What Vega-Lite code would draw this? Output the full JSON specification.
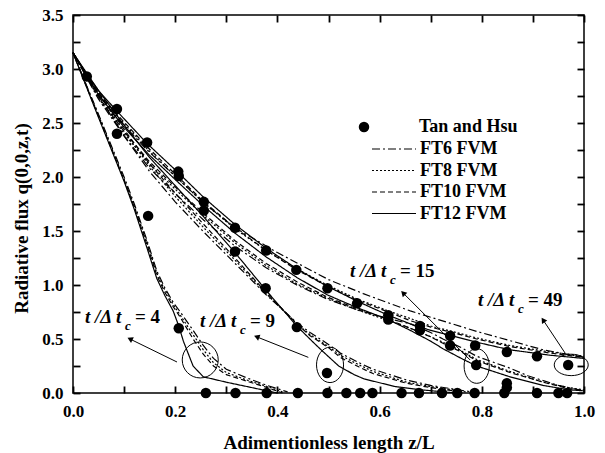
{
  "$schema": "https://vega.github.io/schema/vega-lite/v6.json",
  "autosize": "none",
  "padding": {"left": 73, "top": 15, "right": 21, "bottom": 60},
  "width": 511,
  "height": 378,
  "background": "white",
  "config": {
    "view": {"stroke": "black", "strokeWidth": 1.5},
    "axis": {
      "domain": false, "ticks": true, "zindex": 1,
      "tickColor": "black", "tickWidth": 1.8, "tickSize": 7,
      "labelFont": "Liberation Serif", "labelFontWeight": "bold", "labelFontSize": 17, "labelColor": "black",
      "titleFont": "Liberation Serif", "titleFontWeight": "bold", "titleFontSize": 19, "titleColor": "black",
      "grid": false, "labelOverlap": false, "labelFlush": false
    },
    "legend": {
      "labelFont": "Liberation Serif", "labelFontWeight": "bold", "labelFontSize": 18, "labelColor": "black",
      "padding": 0
    }
  },
  "datasets": {
    "lines": [
      {"t":"4","m":"FT12 FVM","x":0,"y":3.15},{"t":"4","m":"FT12 FVM","x":0.05,"y":2.55},{"t":"4","m":"FT12 FVM","x":0.1,"y":1.96},{"t":"4","m":"FT12 FVM","x":0.12,"y":1.7},{"t":"4","m":"FT12 FVM","x":0.145,"y":1.34},{"t":"4","m":"FT12 FVM","x":0.164,"y":1.06},{"t":"4","m":"FT12 FVM","x":0.18,"y":0.9},{"t":"4","m":"FT12 FVM","x":0.196,"y":0.76},{"t":"4","m":"FT12 FVM","x":0.207,"y":0.62},{"t":"4","m":"FT12 FVM","x":0.216,"y":0.48},{"t":"4","m":"FT12 FVM","x":0.235,"y":0.25},{"t":"4","m":"FT12 FVM","x":0.255,"y":0.15},{"t":"4","m":"FT12 FVM","x":0.3,"y":0.1},{"t":"4","m":"FT12 FVM","x":0.34,"y":0.06},{"t":"4","m":"FT12 FVM","x":0.38,"y":0.02},{"t":"4","m":"FT12 FVM","x":0.4,"y":0.0},
      {"t":"4","m":"FT10 FVM","x":0,"y":3.15},{"t":"4","m":"FT10 FVM","x":0.05,"y":2.56},{"t":"4","m":"FT10 FVM","x":0.1,"y":1.97},{"t":"4","m":"FT10 FVM","x":0.12,"y":1.72},{"t":"4","m":"FT10 FVM","x":0.145,"y":1.37},{"t":"4","m":"FT10 FVM","x":0.164,"y":1.09},{"t":"4","m":"FT10 FVM","x":0.18,"y":0.93},{"t":"4","m":"FT10 FVM","x":0.196,"y":0.8},{"t":"4","m":"FT10 FVM","x":0.21,"y":0.7},{"t":"4","m":"FT10 FVM","x":0.235,"y":0.5},{"t":"4","m":"FT10 FVM","x":0.255,"y":0.36},{"t":"4","m":"FT10 FVM","x":0.275,"y":0.25},{"t":"4","m":"FT10 FVM","x":0.3,"y":0.17},{"t":"4","m":"FT10 FVM","x":0.34,"y":0.11},{"t":"4","m":"FT10 FVM","x":0.38,"y":0.05},{"t":"4","m":"FT10 FVM","x":0.41,"y":0.0},
      {"t":"4","m":"FT8 FVM","x":0,"y":3.15},{"t":"4","m":"FT8 FVM","x":0.05,"y":2.57},{"t":"4","m":"FT8 FVM","x":0.1,"y":1.98},{"t":"4","m":"FT8 FVM","x":0.12,"y":1.73},{"t":"4","m":"FT8 FVM","x":0.145,"y":1.39},{"t":"4","m":"FT8 FVM","x":0.164,"y":1.11},{"t":"4","m":"FT8 FVM","x":0.18,"y":0.95},{"t":"4","m":"FT8 FVM","x":0.196,"y":0.82},{"t":"4","m":"FT8 FVM","x":0.21,"y":0.72},{"t":"4","m":"FT8 FVM","x":0.235,"y":0.54},{"t":"4","m":"FT8 FVM","x":0.255,"y":0.4},{"t":"4","m":"FT8 FVM","x":0.275,"y":0.28},{"t":"4","m":"FT8 FVM","x":0.3,"y":0.19},{"t":"4","m":"FT8 FVM","x":0.34,"y":0.12},{"t":"4","m":"FT8 FVM","x":0.38,"y":0.06},{"t":"4","m":"FT8 FVM","x":0.41,"y":0.01},
      {"t":"4","m":"FT6 FVM","x":0,"y":3.15},{"t":"4","m":"FT6 FVM","x":0.05,"y":2.58},{"t":"4","m":"FT6 FVM","x":0.1,"y":2.0},{"t":"4","m":"FT6 FVM","x":0.12,"y":1.75},{"t":"4","m":"FT6 FVM","x":0.145,"y":1.41},{"t":"4","m":"FT6 FVM","x":0.164,"y":1.13},{"t":"4","m":"FT6 FVM","x":0.18,"y":0.97},{"t":"4","m":"FT6 FVM","x":0.196,"y":0.84},{"t":"4","m":"FT6 FVM","x":0.21,"y":0.75},{"t":"4","m":"FT6 FVM","x":0.235,"y":0.58},{"t":"4","m":"FT6 FVM","x":0.255,"y":0.44},{"t":"4","m":"FT6 FVM","x":0.275,"y":0.32},{"t":"4","m":"FT6 FVM","x":0.3,"y":0.22},{"t":"4","m":"FT6 FVM","x":0.34,"y":0.14},{"t":"4","m":"FT6 FVM","x":0.38,"y":0.07},{"t":"4","m":"FT6 FVM","x":0.42,"y":0.01},

      {"t":"9","m":"FT12 FVM","x":0,"y":3.15},{"t":"9","m":"FT12 FVM","x":0.05,"y":2.8},{"t":"9","m":"FT12 FVM","x":0.1,"y":2.48},{"t":"9","m":"FT12 FVM","x":0.15,"y":2.18},{"t":"9","m":"FT12 FVM","x":0.2,"y":1.92},{"t":"9","m":"FT12 FVM","x":0.256,"y":1.63},{"t":"9","m":"FT12 FVM","x":0.317,"y":1.3},{"t":"9","m":"FT12 FVM","x":0.378,"y":0.95},{"t":"9","m":"FT12 FVM","x":0.438,"y":0.62},{"t":"9","m":"FT12 FVM","x":0.47,"y":0.47},{"t":"9","m":"FT12 FVM","x":0.49,"y":0.38},{"t":"9","m":"FT12 FVM","x":0.52,"y":0.25},{"t":"9","m":"FT12 FVM","x":0.55,"y":0.17},{"t":"9","m":"FT12 FVM","x":0.57,"y":0.13},{"t":"9","m":"FT12 FVM","x":0.63,"y":0.06},{"t":"9","m":"FT12 FVM","x":0.68,"y":0.03},{"t":"9","m":"FT12 FVM","x":0.75,"y":0.0},
      {"t":"9","m":"FT10 FVM","x":0,"y":3.15},{"t":"9","m":"FT10 FVM","x":0.05,"y":2.78},{"t":"9","m":"FT10 FVM","x":0.1,"y":2.44},{"t":"9","m":"FT10 FVM","x":0.15,"y":2.12},{"t":"9","m":"FT10 FVM","x":0.2,"y":1.85},{"t":"9","m":"FT10 FVM","x":0.256,"y":1.56},{"t":"9","m":"FT10 FVM","x":0.317,"y":1.25},{"t":"9","m":"FT10 FVM","x":0.378,"y":0.93},{"t":"9","m":"FT10 FVM","x":0.438,"y":0.64},{"t":"9","m":"FT10 FVM","x":0.464,"y":0.53},{"t":"9","m":"FT10 FVM","x":0.5,"y":0.42},{"t":"9","m":"FT10 FVM","x":0.523,"y":0.33},{"t":"9","m":"FT10 FVM","x":0.56,"y":0.24},{"t":"9","m":"FT10 FVM","x":0.587,"y":0.18},{"t":"9","m":"FT10 FVM","x":0.653,"y":0.09},{"t":"9","m":"FT10 FVM","x":0.7,"y":0.05},{"t":"9","m":"FT10 FVM","x":0.76,"y":0.01},
      {"t":"9","m":"FT8 FVM","x":0,"y":3.15},{"t":"9","m":"FT8 FVM","x":0.05,"y":2.77},{"t":"9","m":"FT8 FVM","x":0.1,"y":2.42},{"t":"9","m":"FT8 FVM","x":0.15,"y":2.1},{"t":"9","m":"FT8 FVM","x":0.2,"y":1.82},{"t":"9","m":"FT8 FVM","x":0.256,"y":1.53},{"t":"9","m":"FT8 FVM","x":0.317,"y":1.23},{"t":"9","m":"FT8 FVM","x":0.378,"y":0.92},{"t":"9","m":"FT8 FVM","x":0.438,"y":0.64},{"t":"9","m":"FT8 FVM","x":0.464,"y":0.54},{"t":"9","m":"FT8 FVM","x":0.5,"y":0.43},{"t":"9","m":"FT8 FVM","x":0.523,"y":0.35},{"t":"9","m":"FT8 FVM","x":0.56,"y":0.26},{"t":"9","m":"FT8 FVM","x":0.587,"y":0.2},{"t":"9","m":"FT8 FVM","x":0.653,"y":0.1},{"t":"9","m":"FT8 FVM","x":0.7,"y":0.06},{"t":"9","m":"FT8 FVM","x":0.77,"y":0.01},
      {"t":"9","m":"FT6 FVM","x":0,"y":3.15},{"t":"9","m":"FT6 FVM","x":0.05,"y":2.75},{"t":"9","m":"FT6 FVM","x":0.1,"y":2.38},{"t":"9","m":"FT6 FVM","x":0.15,"y":2.05},{"t":"9","m":"FT6 FVM","x":0.2,"y":1.77},{"t":"9","m":"FT6 FVM","x":0.256,"y":1.49},{"t":"9","m":"FT6 FVM","x":0.317,"y":1.2},{"t":"9","m":"FT6 FVM","x":0.378,"y":0.91},{"t":"9","m":"FT6 FVM","x":0.438,"y":0.65},{"t":"9","m":"FT6 FVM","x":0.464,"y":0.56},{"t":"9","m":"FT6 FVM","x":0.5,"y":0.45},{"t":"9","m":"FT6 FVM","x":0.523,"y":0.37},{"t":"9","m":"FT6 FVM","x":0.56,"y":0.28},{"t":"9","m":"FT6 FVM","x":0.587,"y":0.22},{"t":"9","m":"FT6 FVM","x":0.653,"y":0.12},{"t":"9","m":"FT6 FVM","x":0.7,"y":0.07},{"t":"9","m":"FT6 FVM","x":0.78,"y":0.01},

      {"t":"15","m":"FT12 FVM","x":0,"y":3.15},{"t":"15","m":"FT12 FVM","x":0.05,"y":2.76},{"t":"15","m":"FT12 FVM","x":0.1,"y":2.46},{"t":"15","m":"FT12 FVM","x":0.15,"y":2.2},{"t":"15","m":"FT12 FVM","x":0.206,"y":1.95},{"t":"15","m":"FT12 FVM","x":0.256,"y":1.73},{"t":"15","m":"FT12 FVM","x":0.317,"y":1.48},{"t":"15","m":"FT12 FVM","x":0.378,"y":1.26},{"t":"15","m":"FT12 FVM","x":0.438,"y":1.07},{"t":"15","m":"FT12 FVM","x":0.497,"y":0.91},{"t":"15","m":"FT12 FVM","x":0.556,"y":0.79},{"t":"15","m":"FT12 FVM","x":0.617,"y":0.68},{"t":"15","m":"FT12 FVM","x":0.66,"y":0.58},{"t":"15","m":"FT12 FVM","x":0.7,"y":0.48},{"t":"15","m":"FT12 FVM","x":0.724,"y":0.41},{"t":"15","m":"FT12 FVM","x":0.76,"y":0.32},{"t":"15","m":"FT12 FVM","x":0.79,"y":0.25},{"t":"15","m":"FT12 FVM","x":0.855,"y":0.15},{"t":"15","m":"FT12 FVM","x":0.92,"y":0.07},{"t":"15","m":"FT12 FVM","x":0.97,"y":0.03},{"t":"15","m":"FT12 FVM","x":1.0,"y":0.02},
      {"t":"15","m":"FT10 FVM","x":0,"y":3.15},{"t":"15","m":"FT10 FVM","x":0.05,"y":2.74},{"t":"15","m":"FT10 FVM","x":0.1,"y":2.42},{"t":"15","m":"FT10 FVM","x":0.15,"y":2.14},{"t":"15","m":"FT10 FVM","x":0.206,"y":1.88},{"t":"15","m":"FT10 FVM","x":0.256,"y":1.66},{"t":"15","m":"FT10 FVM","x":0.317,"y":1.41},{"t":"15","m":"FT10 FVM","x":0.378,"y":1.2},{"t":"15","m":"FT10 FVM","x":0.438,"y":1.03},{"t":"15","m":"FT10 FVM","x":0.497,"y":0.89},{"t":"15","m":"FT10 FVM","x":0.556,"y":0.78},{"t":"15","m":"FT10 FVM","x":0.617,"y":0.68},{"t":"15","m":"FT10 FVM","x":0.66,"y":0.6},{"t":"15","m":"FT10 FVM","x":0.7,"y":0.52},{"t":"15","m":"FT10 FVM","x":0.724,"y":0.46},{"t":"15","m":"FT10 FVM","x":0.76,"y":0.38},{"t":"15","m":"FT10 FVM","x":0.79,"y":0.3},{"t":"15","m":"FT10 FVM","x":0.855,"y":0.19},{"t":"15","m":"FT10 FVM","x":0.92,"y":0.1},{"t":"15","m":"FT10 FVM","x":0.97,"y":0.04},{"t":"15","m":"FT10 FVM","x":1.0,"y":0.02},
      {"t":"15","m":"FT8 FVM","x":0,"y":3.15},{"t":"15","m":"FT8 FVM","x":0.05,"y":2.73},{"t":"15","m":"FT8 FVM","x":0.1,"y":2.4},{"t":"15","m":"FT8 FVM","x":0.15,"y":2.12},{"t":"15","m":"FT8 FVM","x":0.206,"y":1.86},{"t":"15","m":"FT8 FVM","x":0.256,"y":1.64},{"t":"15","m":"FT8 FVM","x":0.317,"y":1.39},{"t":"15","m":"FT8 FVM","x":0.378,"y":1.18},{"t":"15","m":"FT8 FVM","x":0.438,"y":1.01},{"t":"15","m":"FT8 FVM","x":0.497,"y":0.88},{"t":"15","m":"FT8 FVM","x":0.556,"y":0.77},{"t":"15","m":"FT8 FVM","x":0.617,"y":0.67},{"t":"15","m":"FT8 FVM","x":0.66,"y":0.6},{"t":"15","m":"FT8 FVM","x":0.7,"y":0.52},{"t":"15","m":"FT8 FVM","x":0.724,"y":0.47},{"t":"15","m":"FT8 FVM","x":0.76,"y":0.39},{"t":"15","m":"FT8 FVM","x":0.79,"y":0.31},{"t":"15","m":"FT8 FVM","x":0.855,"y":0.2},{"t":"15","m":"FT8 FVM","x":0.92,"y":0.1},{"t":"15","m":"FT8 FVM","x":0.97,"y":0.05},{"t":"15","m":"FT8 FVM","x":1.0,"y":0.03},
      {"t":"15","m":"FT6 FVM","x":0,"y":3.15},{"t":"15","m":"FT6 FVM","x":0.05,"y":2.72},{"t":"15","m":"FT6 FVM","x":0.1,"y":2.38},{"t":"15","m":"FT6 FVM","x":0.15,"y":2.08},{"t":"15","m":"FT6 FVM","x":0.206,"y":1.82},{"t":"15","m":"FT6 FVM","x":0.256,"y":1.6},{"t":"15","m":"FT6 FVM","x":0.317,"y":1.36},{"t":"15","m":"FT6 FVM","x":0.378,"y":1.16},{"t":"15","m":"FT6 FVM","x":0.438,"y":1.0},{"t":"15","m":"FT6 FVM","x":0.497,"y":0.87},{"t":"15","m":"FT6 FVM","x":0.556,"y":0.77},{"t":"15","m":"FT6 FVM","x":0.617,"y":0.69},{"t":"15","m":"FT6 FVM","x":0.66,"y":0.64},{"t":"15","m":"FT6 FVM","x":0.7,"y":0.56},{"t":"15","m":"FT6 FVM","x":0.724,"y":0.5},{"t":"15","m":"FT6 FVM","x":0.76,"y":0.42},{"t":"15","m":"FT6 FVM","x":0.79,"y":0.34},{"t":"15","m":"FT6 FVM","x":0.855,"y":0.23},{"t":"15","m":"FT6 FVM","x":0.89,"y":0.16},{"t":"15","m":"FT6 FVM","x":0.95,"y":0.07},{"t":"15","m":"FT6 FVM","x":1.0,"y":0.02},

      {"t":"49","m":"FT12 FVM","x":0,"y":3.15},{"t":"49","m":"FT12 FVM","x":0.027,"y":2.95},{"t":"49","m":"FT12 FVM","x":0.05,"y":2.8},{"t":"49","m":"FT12 FVM","x":0.086,"y":2.61},{"t":"49","m":"FT12 FVM","x":0.145,"y":2.31},{"t":"49","m":"FT12 FVM","x":0.206,"y":2.04},{"t":"49","m":"FT12 FVM","x":0.256,"y":1.81},{"t":"49","m":"FT12 FVM","x":0.317,"y":1.56},{"t":"49","m":"FT12 FVM","x":0.378,"y":1.34},{"t":"49","m":"FT12 FVM","x":0.438,"y":1.15},{"t":"49","m":"FT12 FVM","x":0.497,"y":0.99},{"t":"49","m":"FT12 FVM","x":0.556,"y":0.85},{"t":"49","m":"FT12 FVM","x":0.617,"y":0.72},{"t":"49","m":"FT12 FVM","x":0.66,"y":0.64},{"t":"49","m":"FT12 FVM","x":0.7,"y":0.58},{"t":"49","m":"FT12 FVM","x":0.75,"y":0.52},{"t":"49","m":"FT12 FVM","x":0.79,"y":0.47},{"t":"49","m":"FT12 FVM","x":0.855,"y":0.4},{"t":"49","m":"FT12 FVM","x":0.933,"y":0.35},{"t":"49","m":"FT12 FVM","x":1.0,"y":0.32},
      {"t":"49","m":"FT10 FVM","x":0,"y":3.15},{"t":"49","m":"FT10 FVM","x":0.05,"y":2.78},{"t":"49","m":"FT10 FVM","x":0.086,"y":2.58},{"t":"49","m":"FT10 FVM","x":0.145,"y":2.28},{"t":"49","m":"FT10 FVM","x":0.206,"y":2.0},{"t":"49","m":"FT10 FVM","x":0.256,"y":1.77},{"t":"49","m":"FT10 FVM","x":0.317,"y":1.53},{"t":"49","m":"FT10 FVM","x":0.378,"y":1.32},{"t":"49","m":"FT10 FVM","x":0.438,"y":1.14},{"t":"49","m":"FT10 FVM","x":0.497,"y":0.99},{"t":"49","m":"FT10 FVM","x":0.556,"y":0.86},{"t":"49","m":"FT10 FVM","x":0.617,"y":0.75},{"t":"49","m":"FT10 FVM","x":0.66,"y":0.67},{"t":"49","m":"FT10 FVM","x":0.7,"y":0.61},{"t":"49","m":"FT10 FVM","x":0.75,"y":0.55},{"t":"49","m":"FT10 FVM","x":0.79,"y":0.5},{"t":"49","m":"FT10 FVM","x":0.855,"y":0.43},{"t":"49","m":"FT10 FVM","x":0.933,"y":0.37},{"t":"49","m":"FT10 FVM","x":1.0,"y":0.33},
      {"t":"49","m":"FT8 FVM","x":0,"y":3.15},{"t":"49","m":"FT8 FVM","x":0.05,"y":2.77},{"t":"49","m":"FT8 FVM","x":0.086,"y":2.57},{"t":"49","m":"FT8 FVM","x":0.145,"y":2.26},{"t":"49","m":"FT8 FVM","x":0.206,"y":1.98},{"t":"49","m":"FT8 FVM","x":0.256,"y":1.76},{"t":"49","m":"FT8 FVM","x":0.317,"y":1.52},{"t":"49","m":"FT8 FVM","x":0.378,"y":1.32},{"t":"49","m":"FT8 FVM","x":0.438,"y":1.15},{"t":"49","m":"FT8 FVM","x":0.497,"y":1.0},{"t":"49","m":"FT8 FVM","x":0.556,"y":0.87},{"t":"49","m":"FT8 FVM","x":0.617,"y":0.76},{"t":"49","m":"FT8 FVM","x":0.66,"y":0.69},{"t":"49","m":"FT8 FVM","x":0.7,"y":0.62},{"t":"49","m":"FT8 FVM","x":0.75,"y":0.56},{"t":"49","m":"FT8 FVM","x":0.79,"y":0.51},{"t":"49","m":"FT8 FVM","x":0.855,"y":0.44},{"t":"49","m":"FT8 FVM","x":0.933,"y":0.38},{"t":"49","m":"FT8 FVM","x":1.0,"y":0.34},
      {"t":"49","m":"FT6 FVM","x":0,"y":3.15},{"t":"49","m":"FT6 FVM","x":0.05,"y":2.76},{"t":"49","m":"FT6 FVM","x":0.086,"y":2.55},{"t":"49","m":"FT6 FVM","x":0.145,"y":2.25},{"t":"49","m":"FT6 FVM","x":0.206,"y":1.98},{"t":"49","m":"FT6 FVM","x":0.256,"y":1.76},{"t":"49","m":"FT6 FVM","x":0.317,"y":1.53},{"t":"49","m":"FT6 FVM","x":0.4,"y":1.3},{"t":"49","m":"FT6 FVM","x":0.5,"y":1.05},{"t":"49","m":"FT6 FVM","x":0.568,"y":0.92},{"t":"49","m":"FT6 FVM","x":0.66,"y":0.76},{"t":"49","m":"FT6 FVM","x":0.79,"y":0.57},{"t":"49","m":"FT6 FVM","x":0.92,"y":0.4},{"t":"49","m":"FT6 FVM","x":1.0,"y":0.33}
    ],
    "dots": [
      {"x":0.027,"y":2.93},{"x":0.086,"y":2.63},{"x":0.086,"y":2.40},{"x":0.145,"y":2.32},{"x":0.147,"y":1.64},
      {"x":0.206,"y":2.05},{"x":0.207,"y":2.01},{"x":0.207,"y":0.60},
      {"x":0.256,"y":1.77},{"x":0.256,"y":1.69},{"x":0.317,"y":1.53},{"x":0.317,"y":1.31},
      {"x":0.378,"y":1.32},{"x":0.377,"y":0.97},{"x":0.437,"y":1.14},{"x":0.438,"y":0.61},
      {"x":0.498,"y":0.97},{"x":0.497,"y":0.185},{"x":0.556,"y":0.83},{"x":0.617,"y":0.72},{"x":0.617,"y":0.68},
      {"x":0.679,"y":0.62},{"x":0.679,"y":0.58},{"x":0.738,"y":0.53},{"x":0.738,"y":0.44},
      {"x":0.787,"y":0.44},{"x":0.789,"y":0.26},{"x":0.849,"y":0.38},{"x":0.849,"y":0.09},{"x":0.849,"y":0.05},
      {"x":0.908,"y":0.34},{"x":0.969,"y":0.26},
      {"x":0.26,"y":0},{"x":0.318,"y":0},{"x":0.379,"y":0},{"x":0.44,"y":0},{"x":0.498,"y":0},{"x":0.535,"y":0},{"x":0.562,"y":0},{"x":0.586,"y":0},{"x":0.643,"y":0},{"x":0.677,"y":0},{"x":0.722,"y":0},{"x":0.752,"y":0},{"x":0.786,"y":0},{"x":0.844,"y":0},{"x":0.908,"y":0},{"x":0.95,"y":0},{"x":0.967,"y":0}
    ],
    "ann": [
      {"t":"4","tx":0.0235,"ty":0.704,"lab":"= 4","ax1":0.2035,"ay1":0.287,"ax2":0.1115,"ay2":0.5,"ex":0.249,"ey":0.306},
      {"t":"9","tx":0.2485,"ty":0.67,"lab":"= 9","ax1":0.4605,"ay1":0.33,"ax2":0.3595,"ay2":0.52,"ex":0.503,"ey":0.26},
      {"t":"15","tx":0.542,"ty":1.13,"lab":"= 15","ax1":0.777,"ay1":0.306,"ax2":0.646,"ay2":0.926,"ex":0.79,"ey":0.25},
      {"t":"49","tx":0.7925,"ty":0.861,"lab":"= 49","ax1":0.963,"ay1":0.37,"ax2":0.92,"ay2":0.676,"ex":0.975,"ey":0.26}
    ]
  },
  "resolve": {"axis": {"x": "independent", "y": "independent"}},
  "layer": [
    {
      "data": {"name": "lines"},
      "mark": {"type": "line", "color": "black", "strokeWidth": 1.2},
      "encoding": {
        "x": {"field": "x", "type": "quantitative", "scale": {"domain": [0, 1], "nice": false, "zero": false},
          "axis": {"orient": "bottom", "values": [0,0.1,0.2,0.3,0.4,0.5,0.6,0.7,0.8,0.9,1.0],
            "labelExpr": "round(datum.value*10) % 2 == 0 ? format(datum.value, '.1f') : ''",
            "offset": -7, "labelPadding": 10, "title": "Adimentionless length z/L", "titlePadding": 14}},
        "y": {"field": "y", "type": "quantitative", "scale": {"domain": [0, 3.5], "nice": false},
          "axis": {"orient": "left", "values": [0,0.25,0.5,0.75,1,1.25,1.5,1.75,2,2.25,2.5,2.75,3,3.25,3.5],
            "labelExpr": "round(datum.value*4) % 2 == 0 ? format(datum.value, '.1f') : ''",
            "offset": -7, "labelPadding": 10, "title": "Radiative flux  q(0,0,z,t)", "titlePadding": 10, "titleY": 203}},
        "detail": {"field": "t", "type": "nominal"},
        "strokeDash": {"field": "m", "type": "nominal",
          "scale": {"domain": ["FT6 FVM", "FT8 FVM", "FT10 FVM", "FT12 FVM"], "range": [[8,3,2,3],[2,2],[5,3],[1,0]]},
          "legend": {"title": null, "orient": "none", "legendX": 312, "legendY": 125,
            "symbolType": "M-4,0L4,0", "symbolSize": 121, "symbolStrokeColor": "black", "symbolStrokeWidth": 1.2,
            "symbolFillColor": "transparent", "labelOffset": 17, "rowPadding": 3.5}}
      }
    },
    {
      "data": {"name": "dots"},
      "mark": {"type": "point", "filled": true, "size": 110, "opacity": 1},
      "encoding": {
        "x": {"field": "x", "type": "quantitative",
          "axis": {"orient": "top", "values": [0,0.1,0.2,0.3,0.4,0.5,0.6,0.7,0.8,0.9,1.0], "labels": false, "title": null, "offset": -7}},
        "y": {"field": "y", "type": "quantitative",
          "axis": {"orient": "right", "values": [0,0.25,0.5,0.75,1,1.25,1.5,1.75,2,2.25,2.5,2.75,3,3.25,3.5], "labels": false, "title": null, "offset": -7}},
        "color": {"datum": "Tan and Hsu", "type": "nominal", "scale": {"range": ["black"]},
          "legend": {"title": null, "orient": "none", "legendX": 282, "legendY": 103, "symbolType": "circle", "symbolSize": 110, "labelOffset": 46}}
      }
    },
    {
      "data": {"name": "ann"},
      "mark": {"type": "point", "filled": false, "stroke": "black", "strokeWidth": 1, "opacity": 1},
      "encoding": {
        "x": {"field": "ex", "type": "quantitative", "axis": null},
        "y": {"field": "ey", "type": "quantitative", "axis": null},
        "shape": {"field": "t", "type": "nominal", "legend": null,
          "scale": {"domain": ["4","9","15","49"], "range": ["M-1,0A1,1 0 1,0 1,0A1,1 0 1,0 -1,0", "M-0.765,0A0.765,1 0 1,0 0.765,0A0.765,1 0 1,0 -0.765,0", "M-0.727,0A0.727,1 0 1,0 0.727,0A0.727,1 0 1,0 -0.727,0", "M-1,0A1,0.63 0 1,0 1,0A1,0.63 0 1,0 -1,0"]}},
        "size": {"field": "t", "type": "nominal", "legend": null,
          "scale": {"domain": ["4","9","15","49"], "range": [1296, 1156, 484, 1444]}}
      }
    },
    {
      "data": {"name": "ann"},
      "mark": {"type": "rule", "color": "black", "strokeWidth": 1},
      "encoding": {
        "x": {"field": "ax1", "type": "quantitative", "axis": null},
        "y": {"field": "ay1", "type": "quantitative", "axis": null},
        "x2": {"field": "ax2"},
        "y2": {"field": "ay2"}
      }
    },
    {
      "data": {"name": "ann"},
      "transform": [{"filter": "datum.t == '4'"}],
      "mark": {"type": "point", "shape": "triangle-up", "filled": true, "color": "black", "size": 40, "opacity": 1, "angle": 296},
      "encoding": {
        "x": {"field": "ax2", "type": "quantitative", "axis": null},
        "y": {"field": "ay2", "type": "quantitative", "axis": null}
      }
    },
    {
      "data": {"name": "ann"},
      "transform": [{"filter": "datum.t == '9'"}],
      "mark": {"type": "point", "shape": "triangle-up", "filled": true, "color": "black", "size": 40, "opacity": 1, "angle": 291},
      "encoding": {
        "x": {"field": "ax2", "type": "quantitative", "axis": null},
        "y": {"field": "ay2", "type": "quantitative", "axis": null}
      }
    },
    {
      "data": {"name": "ann"},
      "transform": [{"filter": "datum.t == '15'"}],
      "mark": {"type": "point", "shape": "triangle-up", "filled": true, "color": "black", "size": 40, "opacity": 1, "angle": 315},
      "encoding": {
        "x": {"field": "ax2", "type": "quantitative", "axis": null},
        "y": {"field": "ay2", "type": "quantitative", "axis": null}
      }
    },
    {
      "data": {"name": "ann"},
      "transform": [{"filter": "datum.t == '49'"}],
      "mark": {"type": "point", "shape": "triangle-up", "filled": true, "color": "black", "size": 40, "opacity": 1, "angle": 326},
      "encoding": {
        "x": {"field": "ax2", "type": "quantitative", "axis": null},
        "y": {"field": "ay2", "type": "quantitative", "axis": null}
      }
    },
    {
      "data": {"name": "ann"},
      "mark": {"type": "text", "text": "t /Δ t", "align": "left", "baseline": "middle", "font": "Liberation Serif", "fontStyle": "italic", "fontWeight": "bold", "fontSize": 19, "color": "black"},
      "encoding": {
        "x": {"field": "tx", "type": "quantitative", "axis": null},
        "y": {"field": "ty", "type": "quantitative", "axis": null}
      }
    },
    {
      "data": {"name": "ann"},
      "mark": {"type": "text", "text": "c", "align": "left", "baseline": "middle", "dx": 40, "dy": 9, "font": "Liberation Serif", "fontStyle": "italic", "fontWeight": "bold", "fontSize": 13, "color": "black"},
      "encoding": {
        "x": {"field": "tx", "type": "quantitative", "axis": null},
        "y": {"field": "ty", "type": "quantitative", "axis": null}
      }
    },
    {
      "data": {"name": "ann"},
      "mark": {"type": "text", "align": "left", "baseline": "middle", "dx": 50, "font": "Liberation Serif", "fontWeight": "bold", "fontSize": 19, "color": "black"},
      "encoding": {
        "x": {"field": "tx", "type": "quantitative", "axis": null},
        "y": {"field": "ty", "type": "quantitative", "axis": null},
        "text": {"field": "lab", "type": "nominal"}
      }
    }
  ]
}
